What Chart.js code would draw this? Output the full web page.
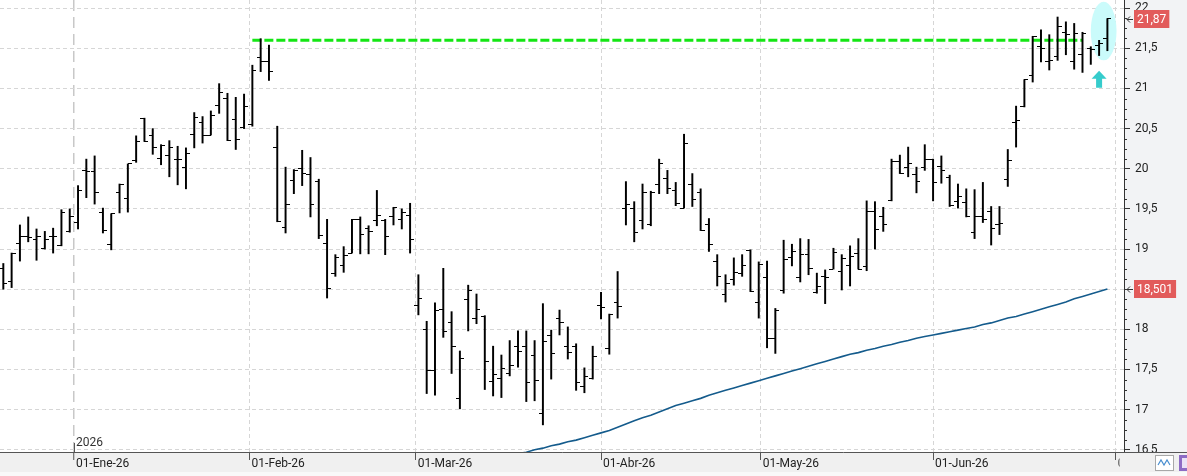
<!DOCTYPE html>
<html>
<head>
<meta charset="utf-8">
<title>Cotización diaria</title>
<script src="https://cdn.jsdelivr.net/npm/chart.js@4.4.1/dist/chart.umd.min.js"></script>
<style>
  html, body { margin: 0; padding: 0; background: #fff; }
  #wrap { width: 1187px; height: 476px; position: relative; }
</style>
</head>
<body>
<div id="wrap"><canvas id="grafico"></canvas></div>
<script>
// Sesiones (dic-25 a jun-26), una barra por sesión
const opens = [
  18.76, 18.59, 19.07, 19.16, 19.12, 19.01, 19.16, 19.04, 19.22, 19.33,
  19.98, 19.97, 19.46, 19.06, 19.71, 19.63, 20.10, 20.63, 20.42, 20.13,
  20.16, 20.12, 20.01, 20.43, 20.58, 20.42, 20.79, 20.87, 20.61, 20.52,
  20.55, 21.39, 21.34, 20.26, 19.27, 19.85, 20.00, 19.93, 19.84, 19.07,
  18.69, 18.79, 18.95, 19.37, 19.25, 19.35, 19.35, 19.40, 19.37, 19.42,
  18.30, 18.00, 17.49, 18.25, 18.09, 17.14, 18.37, 18.14, 18.16, 17.35,
  17.39, 17.45, 17.79, 17.79, 17.68, 16.95, 17.92, 18.14, 17.78, 17.78,
  17.29, 17.39, 18.30, 17.76, 18.34, 19.50, 19.50, 19.35, 19.30, 19.81,
  19.88, 19.73, 19.51, 19.81, 19.71, 19.30, 18.85, 18.44, 18.62, 18.69,
  18.98, 18.33, 18.64, 17.88, 18.48, 18.90, 18.65, 18.93, 18.46, 18.66,
  18.75, 18.72, 18.79, 18.94, 18.78, 19.47, 19.40, 19.60, 20.09, 20.01,
  19.93, 20.02, 20.11, 20.03, 19.89, 19.59, 19.58, 19.20, 19.41, 19.47,
  19.30, 19.86, 20.57, 20.77, 21.16, 21.52, 21.33, 21.40, 21.70, 21.33,
  21.42, 21.50, 21.53, 21.62
];
const highs = [
  18.82, 18.95, 19.30, 19.40, 19.25, 19.22, 19.26, 19.49, 19.50, 19.79,
  20.12, 20.16, 19.51, 19.44, 19.81, 20.06, 20.41, 20.63, 20.50, 20.30,
  20.35, 20.28, 20.26, 20.70, 20.65, 20.72, 21.06, 20.94, 20.89, 20.93,
  21.29, 21.62, 21.54, 20.53, 20.02, 19.99, 20.23, 20.14, 19.87, 19.37,
  18.93, 19.03, 19.37, 19.40, 19.29, 19.73, 19.37, 19.52, 19.50, 19.57,
  18.68, 18.10, 18.33, 18.76, 18.22, 17.73, 18.55, 18.44, 18.17, 17.79,
  17.68, 17.86, 17.98, 17.98, 17.86, 18.32, 17.99, 18.24, 18.03, 17.82,
  17.52, 17.79, 18.46, 18.19, 18.72, 19.84, 19.59, 19.81, 19.72, 20.12,
  19.98, 19.83, 20.43, 19.94, 19.75, 19.38, 18.93, 18.68, 18.89, 18.93,
  18.99, 18.84, 18.85, 18.26, 19.11, 19.06, 19.13, 19.12, 18.70, 18.74,
  19.01, 18.93, 19.04, 19.13, 19.60, 19.59, 19.52, 20.12, 20.17, 20.27,
  20.02, 20.30, 20.12, 20.16, 19.92, 19.81, 19.75, 19.74, 19.83, 19.53,
  19.53, 20.24, 20.78, 21.11, 21.65, 21.73, 21.67, 21.89, 21.83, 21.81,
  21.70, 21.52, 21.60, 21.87
];
const lows = [
  18.50, 18.52, 18.85, 19.09, 18.86, 19.00, 18.95, 19.04, 19.21, 19.25,
  19.64, 19.56, 19.20, 18.99, 19.45, 19.46, 20.08, 20.34, 20.18, 20.05,
  19.90, 19.80, 19.75, 20.26, 20.32, 20.42, 20.69, 20.35, 20.24, 20.50,
  20.53, 21.21, 21.10, 19.34, 19.20, 19.69, 19.79, 19.40, 19.13, 18.39,
  18.66, 18.71, 18.95, 18.94, 18.94, 19.29, 18.93, 19.30, 19.25, 18.95,
  18.18, 17.20, 17.18, 17.90, 17.45, 17.01, 17.98, 18.07, 17.25, 17.17,
  17.15, 17.42, 17.53, 17.10, 17.11, 16.81, 17.38, 17.93, 17.63, 17.24,
  17.21, 17.38, 18.13, 17.69, 18.14, 19.30, 19.09, 19.25, 19.29, 19.69,
  19.69, 19.54, 19.51, 19.53, 19.23, 18.97, 18.54, 18.34, 18.55, 18.66,
  18.47, 18.14, 17.77, 17.70, 18.45, 18.79, 18.59, 18.68, 18.45, 18.32,
  18.75, 18.49, 18.54, 18.75, 18.73, 19.00, 19.22, 19.60, 19.94, 19.90,
  19.70, 19.98, 19.60, 19.82, 19.53, 19.51, 19.40, 19.13, 19.33, 19.05,
  19.18, 19.78, 20.27, 20.77, 21.08, 21.33, 21.23, 21.35, 21.42, 21.24,
  21.20, 21.30, 21.41, 21.47
];
const closes = [
  18.57, 18.95, 19.15, 19.14, 19.15, 19.12, 19.16, 19.45, 19.41, 19.73,
  19.97, 19.71, 19.23, 19.44, 19.81, 20.06, 20.34, 20.34, 20.26, 20.29,
  20.27, 20.11, 20.19, 20.64, 20.42, 20.66, 20.95, 20.35, 20.37, 20.78,
  21.22, 21.34, 21.21, 19.34, 19.55, 19.98, 19.94, 19.56, 19.17, 18.51,
  18.89, 18.92, 19.37, 19.18, 19.22, 19.42, 19.15, 19.52, 19.46, 19.12,
  18.39, 17.49, 18.23, 17.97, 17.78, 17.64, 18.48, 18.25, 17.60, 17.44,
  17.51, 17.55, 17.73, 17.34, 17.36, 17.85, 17.70, 18.09, 17.71, 17.34,
  17.41, 17.66, 18.27, 18.18, 18.28, 19.55, 19.21, 19.71, 19.71, 20.07,
  19.75, 19.57, 20.32, 19.62, 19.23, 19.06, 18.66, 18.57, 18.71, 18.79,
  18.47, 18.81, 17.89, 18.24, 18.87, 18.97, 18.93, 18.76, 18.53, 18.65,
  18.96, 18.88, 18.91, 18.75, 19.47, 19.24, 19.30, 20.09, 19.94, 20.07,
  19.84, 20.12, 19.83, 19.98, 19.54, 19.65, 19.40, 19.40, 19.37, 19.25,
  19.32, 20.10, 20.60, 21.11, 21.65, 21.50, 21.35, 21.77, 21.67, 21.68,
  21.69, 21.48, 21.56, 21.87
];

// media móvil (visible desde la sesión 62)
const ma200Start = 62;
const ma200 = [
  16.45, 16.47, 16.50, 16.52, 16.55, 16.57, 16.60, 16.62, 16.65, 16.68,
  16.71, 16.74, 16.78, 16.82, 16.86, 16.90, 16.93, 16.97, 17.01, 17.05,
  17.08, 17.11, 17.14, 17.18, 17.21, 17.24, 17.27, 17.30, 17.33, 17.36,
  17.39, 17.42, 17.45, 17.48, 17.51, 17.54, 17.57, 17.60, 17.63, 17.66,
  17.69, 17.71, 17.74, 17.76, 17.79, 17.81, 17.84, 17.86, 17.89, 17.91,
  17.93, 17.95, 17.97, 17.99, 18.01, 18.03, 18.06, 18.08, 18.11, 18.14,
  18.16, 18.19, 18.22, 18.25, 18.28, 18.31, 18.34, 18.38, 18.41, 18.44,
  18.47, 18.501
];

// resistencia (línea verde discontinua)
const resistanceLevel = 21.6;
const resistanceFrom = 30;
const resistanceTo = 130;

// eje de fechas: posición en sesiones de cada día 1 del mes
const monthTickPos = [8.5, 29.67, 49.67, 72, 91.25, 112, 134];
const monthLabels = ["01-Ene-26", "01-Feb-26", "01-Mar-26", "01-Abr-26", "01-May-26", "01-Jun-26", "01-Jul-26"];
const yearLabel = "2026";

const priceTicks = [16.5, 17, 17.5, 18, 18.5, 19, 19.5, 20, 20.5, 21, 21.5, 22];

function fmt(v) {
  return String(v).replace(".", ",");
}

function tickImage(side) {
  const c = document.createElement("canvas");
  c.width = 8;
  c.height = 1;
  const g = c.getContext("2d");
  g.fillStyle = "#000";
  g.fillRect(side === "left" ? 0 : 4, 0, 4, 1);
  return c;
}

const rangeData = highs.map((h, i) => ({ x: i, y: [lows[i], h] }));
const openData = opens.map((v, i) => ({ x: i, y: v }));
const closeData = closes.map((v, i) => ({ x: i, y: v }));
const maData = ma200.map((v, i) => ({ x: ma200Start + i, y: v }));
const resistanceData = [
  { x: resistanceFrom, y: resistanceLevel },
  { x: resistanceTo, y: resistanceLevel },
];

const decoPlugin = {
  id: "deco",
  beforeDraw(chart) {
    const { ctx, width, height, chartArea } = chart;
    ctx.save();
    ctx.fillStyle = "#ffffff";
    ctx.fillRect(0, 0, width, height);
    ctx.fillStyle = "#f2f3f5";
    ctx.fillRect(chartArea.right, 0, width - chartArea.right, chartArea.bottom);
    ctx.fillStyle = "#f0f0f0";
    ctx.fillRect(0, chartArea.bottom, width, 20);
    ctx.fillStyle = "#f9f9f9";
    ctx.fillRect(0, chartArea.bottom + 20, width, height);
    ctx.restore();
    ctx.imageSmoothingEnabled = false;
  },
  beforeDatasetsDraw(chart) {
    const { ctx } = chart;
    const xs = chart.scales.x;
    const ys = chart.scales.y;
    // elipse de la última sesión
    const x0 = xs.getPixelForValue(131.0);
    const x1 = xs.getPixelForValue(134.1);
    const y0 = ys.getPixelForValue(22.08);
    const y1 = ys.getPixelForValue(21.35);
    ctx.save();
    ctx.fillStyle = "#cafbfb";
    ctx.beginPath();
    ctx.ellipse((x0 + x1) / 2, (y0 + y1) / 2, (x1 - x0) / 2, (y1 - y0) / 2, 0, 0, Math.PI * 2);
    ctx.fill();
    ctx.restore();
    ctx.imageSmoothingEnabled = false;
  },
  afterDatasetsDraw(chart) {
    const { ctx } = chart;
    const xs = chart.scales.x;
    const ys = chart.scales.y;
    // flecha de subida
    const ax = xs.getPixelForValue(132);
    const tip = ys.getPixelForValue(21.22);
    const neck = ys.getPixelForValue(21.12);
    const base = ys.getPixelForValue(21.01);
    ctx.save();
    ctx.fillStyle = "#36cccc";
    ctx.beginPath();
    ctx.moveTo(ax, tip);
    ctx.lineTo(ax + 7.5, neck);
    ctx.lineTo(ax + 3, neck);
    ctx.lineTo(ax + 3, base);
    ctx.lineTo(ax - 3, base);
    ctx.lineTo(ax - 3, neck);
    ctx.lineTo(ax - 7.5, neck);
    ctx.closePath();
    ctx.fill();
    ctx.restore();
  },
  afterDraw(chart) {
    const { ctx, width, height, chartArea } = chart;
    const xs = chart.scales.x;
    const ys = chart.scales.y;
    const right = chartArea.right;
    const bottom = chartArea.bottom;
    ctx.save();

    // marcas menores del eje de precios
    ctx.strokeStyle = "#333";
    ctx.lineWidth = 1;
    ctx.beginPath();
    for (let i = 0; i < priceTicks.length - 1; i++) {
      const step = (priceTicks[i + 1] - priceTicks[i]) / 4;
      for (let j = 1; j < 4; j++) {
        const py = Math.round(ys.getPixelForValue(priceTicks[i] + j * step)) + 0.5;
        ctx.moveTo(right, py);
        ctx.lineTo(right + 3, py);
      }
    }
    ctx.stroke();

    // año sobre la primera marca
    const jx = Math.round(xs.getPixelForValue(monthTickPos[0])) + 0.5;
    ctx.strokeStyle = "#555";
    ctx.beginPath();
    ctx.moveTo(jx, bottom - 9);
    ctx.lineTo(jx, bottom);
    ctx.stroke();
    ctx.fillStyle = "#333";
    ctx.font = "12px Roboto";
    ctx.textBaseline = "middle";
    ctx.textAlign = "left";
    ctx.fillText(yearLabel, jx + 1.5, bottom - 9);

    // esquina inferior derecha
    ctx.fillStyle = "#f0f0f0";
    ctx.fillRect(1119.5, bottom + 1, width - 1119.5, 19);
    ctx.fillStyle = "#f9f9f9";
    ctx.fillRect(1119.5, bottom + 20, width - 1119.5, height - bottom - 20);
    ctx.strokeStyle = "#555";
    ctx.beginPath();
    ctx.moveTo(right, Math.round(bottom) + 0.5);
    ctx.lineTo(width, Math.round(bottom) + 0.5);
    ctx.stroke();

    // iconos
    ctx.fillStyle = "#ffffff";
    ctx.fillRect(1155.5, 455.5, 18, 15);
    ctx.strokeStyle = "#a8a8a8";
    ctx.strokeRect(1155.5, 455.5, 18, 15);
    ctx.strokeStyle = "#4a8fd0";
    ctx.lineWidth = 1.2;
    ctx.beginPath();
    ctx.moveTo(1158, 465);
    ctx.lineTo(1161, 460);
    ctx.lineTo(1164, 465);
    ctx.lineTo(1167, 460);
    ctx.lineTo(1170, 465);
    ctx.stroke();
    ctx.fillStyle = "#8d6bc4";
    ctx.fillRect(1179, 455, 8, 16);
    ctx.fillStyle = "#e9e2f5";
    ctx.fillRect(1182, 458, 5, 10);

    // etiquetas de último valor
    function priceTag(value, text) {
      const py = ys.getPixelForValue(value);
      ctx.font = "12px Roboto";
      const w = ctx.measureText(text).width;
      ctx.fillStyle = "#e25b5b";
      ctx.fillRect(right + 10, Math.round(py) - 9, w + 6, 18);
      ctx.fillStyle = "#ffffff";
      ctx.textBaseline = "middle";
      ctx.textAlign = "left";
      ctx.fillText(text, right + 13, Math.round(py) + 0.5);
      ctx.strokeStyle = "#333";
      ctx.lineWidth = 1;
      const ay = Math.round(py) + 0.5;
      ctx.beginPath();
      ctx.moveTo(right + 3, ay);
      ctx.lineTo(right + 9, ay);
      ctx.moveTo(right + 6, ay - 3);
      ctx.lineTo(right + 3, ay);
      ctx.lineTo(right + 6, ay + 3);
      ctx.stroke();
    }
    priceTag(closes[closes.length - 1], fmt(closes[closes.length - 1]));
    priceTag(ma200[ma200.length - 1], fmt(ma200[ma200.length - 1]));

    ctx.restore();
  },
};

Chart.defaults.font.family = "Roboto, 'Noto Sans', sans-serif";
Chart.defaults.font.size = 12;
Chart.defaults.color = "#222";

const ctx = document.getElementById("grafico").getContext("2d");
new Chart(ctx, {
  type: "bar",
  data: {
    datasets: [
      {
        type: "line",
        label: "apertura",
        data: openData,
        showLine: false,
        pointStyle: tickImage("left"),
        pointRadius: 2,
        order: 0,
      },
      {
        type: "line",
        label: "cierre",
        data: closeData,
        showLine: false,
        pointStyle: tickImage("right"),
        pointRadius: 2,
        order: 0,
      },
      {
        type: "bar",
        label: "rango",
        data: rangeData,
        backgroundColor: "#000",
        borderWidth: 0,
        barThickness: 1.3,
        order: 1,
      },
      {
        type: "line",
        label: "resistencia",
        data: resistanceData,
        borderColor: "#14e614",
        borderWidth: 3,
        borderDash: [9, 3],
        pointRadius: 0,
        order: 2,
      },
      {
        type: "line",
        label: "media",
        data: maData,
        borderColor: "#145b8c",
        borderWidth: 1.6,
        pointRadius: 0,
        tension: 0,
        order: 3,
      },
    ],
  },
  options: {
    responsive: true,
    maintainAspectRatio: false,
    animation: false,
    events: [],
    layout: { padding: 0, autoPadding: false },
    plugins: {
      legend: { display: false },
      tooltip: { enabled: false },
    },
    scales: {
      x: {
        type: "linear",
        position: "bottom",
        min: -0.4,
        max: 135,
        offset: false,
        afterBuildTicks: (scale) => {
          scale.ticks = monthTickPos.map((v) => ({ value: v }));
        },
        afterFit: (scale) => {
          scale.height = 24;
          scale.paddingLeft = 0;
          scale.paddingRight = 0;
        },
        grid: {
          offset: false,
          color: (c) => (c.index === 0 ? "#c8c8c8" : "#d6d6d6"),
          lineWidth: (c) => (c.index === 0 ? 1.5 : 1),
          tickColor: "#555",
          tickWidth: 1,
          tickLength: 8,
          tickBorderDash: [],
        },
        border: {
          color: "#555",
          width: 1,
          dash: (c) => (c.index === 0 ? [11, 6] : [4, 3]),
        },
        ticks: {
          autoSkip: false,
          maxRotation: 0,
          align: "start",
          labelOffset: 2,
          padding: -3,
          color: "#222",
          callback: (v, i) => monthLabels[i],
        },
      },
      y: {
        type: "linear",
        position: "right",
        min: 16.472,
        max: 22.102,
        afterBuildTicks: (scale) => {
          scale.ticks = priceTicks.map((v) => ({ value: v }));
        },
        afterFit: (scale) => {
          scale.width = 63;
          scale.paddingTop = 0;
          scale.paddingBottom = 0;
        },
        grid: {
          color: "#d6d6d6",
          tickColor: "#333",
          tickWidth: 1,
          tickLength: 6,
          tickBorderDash: [],
        },
        border: {
          color: "#333",
          width: 1,
          dash: [4, 3],
        },
        ticks: {
          padding: 5,
          color: "#222",
          callback: (v) => fmt(v),
        },
      },
    },
  },
  plugins: [decoPlugin],
});
</script>
</body>
</html>
